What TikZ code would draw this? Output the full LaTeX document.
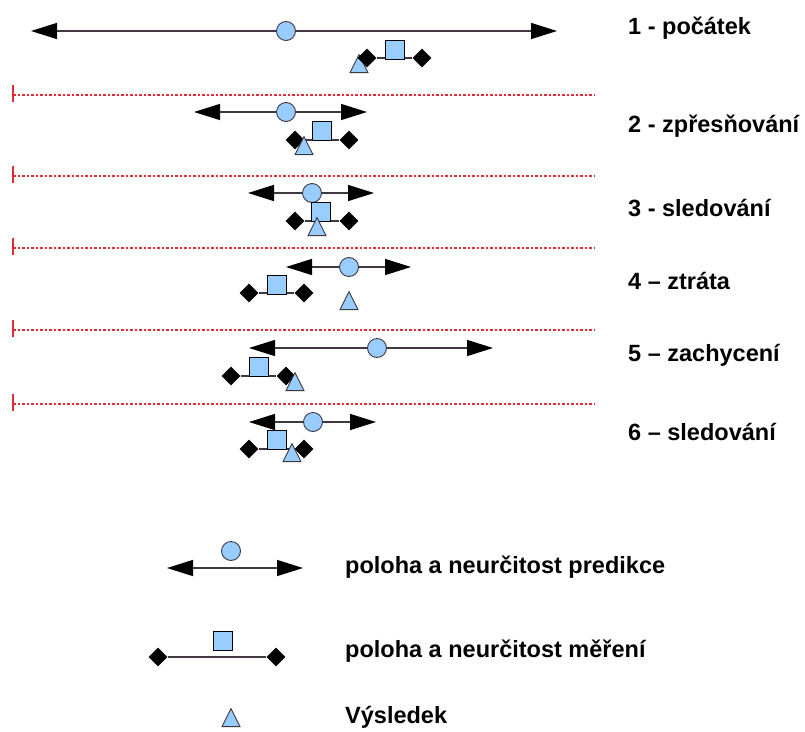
\documentclass[tikz,border=0pt]{standalone}
\usepackage{fontspec}
\setmainfont{Liberation Sans}
\usetikzlibrary{arrows.meta,shapes.geometric}
\definecolor{lb}{RGB}{153,204,255}
\definecolor{lc}{RGB}{64,56,64}
\definecolor{rl}{RGB}{225,45,55}
\begin{document}
\begin{tikzpicture}[x=1pt,y=-1pt,
  tipp/.tip={Triangle[length=26pt,width=16pt,color=black]},
  pred/.style={draw=lc,line width=1.4pt,tipp-tipp},
  ml/.style={draw=lc,line width=1.4pt},
  pc/.style={circle,draw=lc,fill=lb,line width=0.9pt,minimum size=19pt,inner sep=0pt},
  msq/.style={rectangle,draw=black,fill=lb,line width=0.9pt,minimum size=19pt,inner sep=0pt},
  mdia/.style={diamond,aspect=1,fill=black,minimum width=19pt,minimum height=19pt,inner sep=0pt},
  rtri/.style={isosceles triangle,isosceles triangle stretches,shape border rotate=90,draw=lc,fill=lb,line width=0.9pt,minimum width=18pt,minimum height=18pt,inner sep=0pt},
  sep/.style={draw=rl,line width=1.4pt,dash pattern=on 2.5pt off 2pt},
  tick/.style={draw=rl,line width=1.2pt},
  lab/.style={anchor=base west,inner sep=0pt,font=\bfseries\fontsize{23.5}{27}\selectfont}]
\useasboundingbox (0,0) rectangle (805,731);

% separators
\foreach \yy/\nm in {95/s1,176/s2,248/s3,330/s4,404/s5}{
  \coordinate (\nm a) at (13,\yy);
  \coordinate (\nm b) at (595,\yy);
  \coordinate (\nm t) at (13,\yy-10);
  \coordinate (\nm u) at (13,\yy+7);
  \draw[sep] (\nm a) -- (\nm b);
  \draw[tick] (\nm t) -- (\nm u);
}

% Row 1
\coordinate (p1L) at (31,31); \coordinate (p1R) at (557,31);
\draw[pred] (p1L) -- (p1R);
\node[pc] (c1) at (286,31) {};
\node[rtri] (t1) at (359,67) {};
\node[mdia] (d1a) at (367,58) {};
\node[mdia] (d1b) at (422,58) {};
\draw[ml] (d1a) -- (d1b);
\node[msq] (q1) at (395,49.5) {};

% Row 2
\coordinate (p2L) at (194,112); \coordinate (p2R) at (367,112);
\draw[pred] (p2L) -- (p2R);
\node[pc] (c2) at (286,112) {};
\node[mdia] (d2a) at (295,140) {};
\node[mdia] (d2b) at (349,140) {};
\draw[ml] (d2a) -- (d2b);
\node[msq] (q2) at (322,131) {};
\node[rtri] (t2) at (304,149) {};

% Row 3
\coordinate (p3L) at (248,193); \coordinate (p3R) at (374,193);
\draw[pred] (p3L) -- (p3R);
\node[pc] (c3) at (312,193) {};
\node[mdia] (d3a) at (295,221) {};
\node[mdia] (d3b) at (349,221) {};
\draw[ml] (d3a) -- (d3b);
\node[msq] (q3) at (321,211.5) {};
\node[rtri] (t3) at (317,230) {};

% Row 4
\coordinate (p4L) at (286,267); \coordinate (p4R) at (411,267);
\draw[pred] (p4L) -- (p4R);
\node[pc] (c4) at (349,267) {};
\node[mdia] (d4a) at (249,293) {};
\node[mdia] (d4b) at (304,293) {};
\draw[ml] (d4a) -- (d4b);
\node[msq] (q4) at (277,284.5) {};
\node[rtri] (t4) at (349,304) {};

% Row 5
\coordinate (p5L) at (249,348); \coordinate (p5R) at (493,348);
\draw[pred] (p5L) -- (p5R);
\node[pc] (c5) at (377,348) {};
\node[mdia] (d5a) at (231,376) {};
\node[mdia] (d5b) at (286,376) {};
\draw[ml] (d5a) -- (d5b);
\node[msq] (q5) at (259,366.5) {};
\node[rtri] (t5) at (295,385) {};

% Row 6
\coordinate (p6L) at (249,422); \coordinate (p6R) at (376,422);
\draw[pred] (p6L) -- (p6R);
\node[pc] (c6) at (313,422) {};
\node[mdia] (d6a) at (249,449) {};
\node[mdia] (d6b) at (304,449) {};
\draw[ml] (d6a) -- (d6b);
\node[msq] (q6) at (277,440) {};
\node[rtri] (t6) at (292,456) {};

% Labels
\node[lab] (l1) at (628,34) {1 - počátek};
\node[lab] (l2) at (628,132) {2 - zpřesňování};
\node[lab] (l3) at (628,216) {3 - sledování};
\node[lab] (l4) at (628,289) {4 – ztráta};
\node[lab] (l5) at (628,361) {5 – zachycení};
\node[lab] (l6) at (628,440) {6 – sledování};

% Legend
\coordinate (lpL) at (167,568); \coordinate (lpR) at (303,568);
\draw[pred] (lpL) -- (lpR);
\node[pc] (lc) at (231,551) {};
\node[mdia] (lda) at (158,657) {};
\node[mdia] (ldb) at (276,657) {};
\draw[ml] (lda) -- (ldb);
\node[msq] (lq) at (223,641) {};
\node[rtri] (lt) at (231,721) {};

\node[lab] (g1) at (345,573) {poloha a neurčitost predikce};
\node[lab] (g2) at (345,657) {poloha a neurčitost měření};
\node[lab] (g3) at (345,723) {Výsledek};
\end{tikzpicture}
\end{document}
